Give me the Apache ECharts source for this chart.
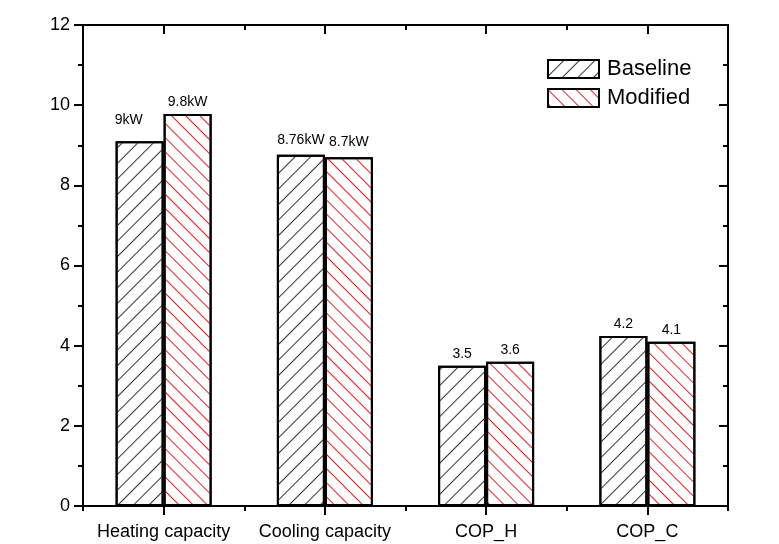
<!DOCTYPE html>
<html>
<head>
<meta charset="utf-8">
<script src="https://cdn.jsdelivr.net/npm/echarts@6/dist/echarts.min.js"></script>
<style>
html,body{margin:0;padding:0;background:#fff;}
#chart{width:779px;height:544px;}
</style>
</head>
<body>
<div id="chart"></div>
<script>
var categories = ['Heating capacity', 'Cooling capacity', 'COP_H', 'COP_C'];
var baselineValues = [9.1, 8.76, 3.5, 4.24];
var modifiedValues = [9.78, 8.7, 3.6, 4.1];
var baselineLabels = ['9kW', '8.76kW', '3.5', '4.2'];
var modifiedLabels = ['9.8kW', '8.7kW', '3.6', '4.1'];
var seriesNames = ['Baseline', 'Modified'];
var yTicks = [0, 2, 4, 6, 8, 10, 12];

var chart = echarts.init(document.getElementById('chart'));
var FONT = '"Liberation Sans", Arial, sans-serif';

function mkData(vals, labels, special) {
  return vals.map(function (v, i) {
    var d = { value: v, label: { formatter: labels[i] } };
    if (special && special[i]) d.label = Object.assign(d.label, special[i]);
    return d;
  });
}

var labelBase = {
  show: true, position: 'top', distance: 5, color: '#000',
  fontFamily: FONT, fontSize: 14
};

var xCommon = {
  type: 'category', data: categories,
  axisLine: { show: true, lineStyle: { color: '#000', width: 2 } },
  splitLine: { show: false }
};

var option = {
  animation: false,
  backgroundColor: '#fff',
  grid: { left: 83, right: 51, top: 25, bottom: 38, containLabel: false },
  legend: {
    orient: 'vertical', left: 542, top: 53,
    icon: 'rect',
    itemWidth: 51, itemHeight: 18, itemGap: 7,
    textStyle: { fontFamily: FONT, fontSize: 22, color: '#000', padding: [0, 0, 0, 3] },
    data: seriesNames
  },
  xAxis: [
    Object.assign({}, xCommon, {
      position: 'bottom',
      axisTick: { show: true, alignWithLabel: true, interval: 0, inside: false, length: 9, lineStyle: { color: '#000', width: 2 } },
      axisLabel: { color: '#000', fontFamily: FONT, fontSize: 18, margin: 17, interval: 0 }
    }),
    Object.assign({}, xCommon, {
      position: 'bottom',
      axisTick: { show: true, alignWithLabel: false, interval: 0, inside: false, length: 5, lineStyle: { color: '#000', width: 2 } },
      axisLabel: { show: false }
    }),
    Object.assign({}, xCommon, {
      position: 'top',
      axisTick: { show: true, alignWithLabel: true, interval: 0, inside: true, length: 9, lineStyle: { color: '#000', width: 2 } },
      axisLabel: { show: false }
    }),
    Object.assign({}, xCommon, {
      position: 'top',
      axisTick: { show: true, alignWithLabel: false, interval: 0, inside: true, length: 5, lineStyle: { color: '#000', width: 2 } },
      axisLabel: { show: false }
    })
  ],
  yAxis: [
    {
      type: 'value', min: yTicks[0], max: yTicks[yTicks.length - 1], interval: 2, position: 'left',
      axisLine: { show: true, lineStyle: { color: '#000', width: 2 } },
      axisTick: { show: true, inside: false, length: 9, lineStyle: { color: '#000', width: 2 } },
      minorTick: { show: true, splitNumber: 2, length: 5, lineStyle: { color: '#000', width: 2 } },
      axisLabel: { color: '#000', fontFamily: FONT, fontSize: 18, margin: 13 },
      splitLine: { show: false }
    },
    {
      type: 'value', min: yTicks[0], max: yTicks[yTicks.length - 1], interval: 2, position: 'right',
      axisLine: { show: true, lineStyle: { color: '#000', width: 2 } },
      axisTick: { show: true, inside: true, length: 9, lineStyle: { color: '#000', width: 2 } },
      minorTick: { show: true, splitNumber: 2, length: 5, lineStyle: { color: '#000', width: 2 } },
      axisLabel: { show: false },
      splitLine: { show: false }
    }
  ],
  series: [
    {
      name: seriesNames[0], type: 'bar', xAxisIndex: 0, yAxisIndex: 0,
      barWidth: 48, barGap: '0%',
      itemStyle: {
        color: '#fff', borderColor: '#000', borderWidth: 2,
        decal: { symbol: 'rect', symbolSize: 1, color: '#333', dashArrayX: [1, 0], dashArrayY: [1, 10], rotation: -Math.PI / 4 }
      },
      label: labelBase,
      data: mkData(baselineValues, baselineLabels, [{ distance: 14, offset: [-11, 0] }, { distance: 8 }, null, null])
    },
    {
      name: seriesNames[1], type: 'bar', xAxisIndex: 0, yAxisIndex: 0,
      barWidth: 48, barGap: '0%',
      itemStyle: {
        color: '#fff', borderColor: '#000', borderWidth: 2,
        decal: { symbol: 'rect', symbolSize: 1, color: '#e82020', dashArrayX: [1, 0], dashArrayY: [1, 9], rotation: Math.PI / 4 }
      },
      label: labelBase,
      data: mkData(modifiedValues, modifiedLabels, [null, { distance: 8 }, null, null])
    }
  ]
};
chart.setOption(option);
</script>
</body>
</html>
